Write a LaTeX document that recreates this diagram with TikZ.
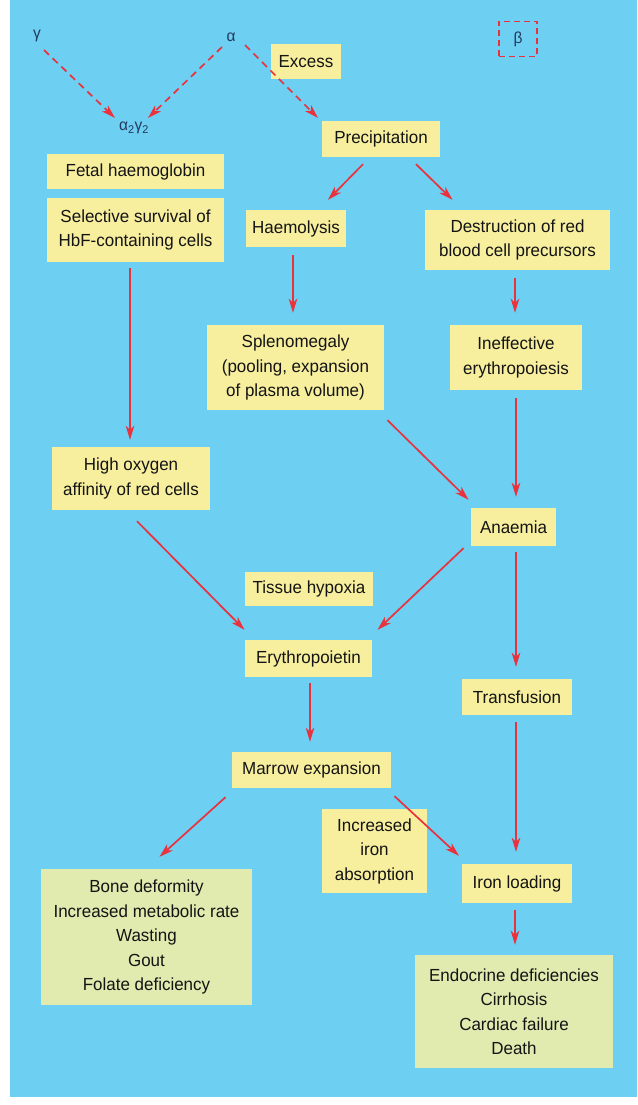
\documentclass[tikz,border=0pt]{standalone}
\usepackage{fontspec}
\setmainfont[FakeStretch=0.97]{Liberation Sans}
\usepackage{tikz}
\usetikzlibrary{arrows,arrows.meta,positioning,shapes}

\definecolor{skyblue}{HTML}{6DCFF2}
\definecolor{boxyellow}{HTML}{F7EF9E}
\definecolor{boxgreen}{HTML}{E1EAAF}
\definecolor{arrowred}{HTML}{E8333F}
\definecolor{greekblue}{HTML}{243A5E}

\tikzset{
  box/.style={fill=boxyellow,align=center,inner sep=0pt,text=black!92,
    font=\fontsize{17.5}{24.5}\selectfont},
  listbox/.style={box,fill=boxgreen},
  greek/.style={text=greekblue,font=\fontsize{16}{18}\selectfont},
  arr/.style={draw=arrowred,line width=1.7pt,-{Stealth[length=14pt,width=8.5pt,inset=4pt]}},
  dasharr/.style={arr,dash pattern=on 7pt off 5pt}
}

\begin{document}
\begin{tikzpicture}[x=1pt,y=-1pt]
\useasboundingbox (0,0) rectangle (637,1105);
\fill[skyblue] (10,0) rectangle (637,1097);

\node[greek] (gam) at (37,36) {γ};
\node[greek] (alp) at (231,37) {α};
\node[greek] (hbf) at (134,128) {α\textsubscript{2}γ\textsubscript{2}};
\node[greek,draw=arrowred,line width=1.5pt,dash pattern=on 6pt off 4pt,minimum width=38,minimum height=35] (bet) at (518,39) {β};

\node[box,minimum width=70,minimum height=35] (exc) at (306,62) {Excess};
\node[box,minimum width=118,minimum height=36] (prec) at (381,139) {Precipitation};
\node[box,minimum width=177,minimum height=35] (fetal) at (135.5,171.5) {Fetal haemoglobin};
\node[box,minimum width=177,minimum height=64] (surv) at (135.5,230) {Selective survival of\\HbF-containing cells};
\node[box,minimum width=100,minimum height=37] (haem) at (296,228.5) {Haemolysis};
\node[box,minimum width=185,minimum height=60] (destr) at (517.5,240) {Destruction of red\\blood cell precursors};
\node[box,minimum width=177,minimum height=85] (splen) at (295.5,367.5) {Splenomegaly\\(pooling, expansion\\of plasma volume)};
\node[box,minimum width=132,minimum height=65] (ineff) at (516,357.5) {Ineffective\\erythropoiesis};
\node[box,minimum width=158,minimum height=63] (oxy) at (131,478.5) {High oxygen\\affinity of red cells};
\node[box,minimum width=85,minimum height=38] (anae) at (513.5,527) {Anaemia};
\node[box,minimum width=128,minimum height=34] (hypox) at (309,589) {Tissue hypoxia};
\node[box,minimum width=127,minimum height=37] (epo) at (308.5,658.5) {Erythropoietin};
\node[box,minimum width=110,minimum height=36] (transf) at (517,697) {Transfusion};
\node[box,minimum width=159,minimum height=36] (marrow) at (311.5,770) {Marrow expansion};
\node[box,minimum width=105,minimum height=84] (absorb) at (374.5,851) {Increased\\iron\\absorption};
\node[box,minimum width=110,minimum height=39] (iron) at (517,883.5) {Iron loading};
\node[listbox,minimum width=211,minimum height=136] (bone) at (146.5,937) {Bone deformity\\Increased metabolic rate\\Wasting\\Gout\\Folate deficiency};
\node[listbox,minimum width=198,minimum height=113] (endo) at (514,1011.5) {Endocrine deficiencies\\Cirrhosis\\Cardiac failure\\Death};

% globin chains
\draw[dasharr] ([shift={(7,14)}]gam.center) -- ([shift={(-19,-10)}]hbf.center);
\draw[dasharr] ([shift={(-9,10)}]alp.center) -- ([shift={(14,-10)}]hbf.center);
\draw[dasharr] ([shift={(14,8)}]alp.center) -- ([shift={(-63,-21)}]prec.center);

% alpha excess
\draw[arr] ([shift={(-18,7)}]prec.south) -- ([shift={(32,-10)}]haem.north);
\draw[arr] ([shift={(35,7)}]prec.south) -- ([shift={(-65,-10)}]destr.north);
\draw[arr] ([shift={(-3,8)}]haem.south) -- ([shift={(-2.5,-12)}]splen.north);
\draw[arr] ([shift={(-2.5,8)}]destr.south) -- ([shift={(-1,-12)}]ineff.north);
\draw[arr] ([shift={(-5.5,6)}]surv.south) -- ([shift={(-1,-7)}]oxy.north);
\draw[arr] ([shift={(92,10)}]splen.south) -- ([shift={(-45,-8)}]anae.north);
\draw[arr] ([shift={(0,8)}]ineff.south) -- ([shift={(2.5,-11)}]anae.north);

% anaemia and its effects
\draw[arr] ([shift={(6,11)}]oxy.south) -- ([shift={(-64,-10)}]epo.north);
\draw[arr] ([shift={(-50,2)}]anae.south) -- ([shift={(69,-10)}]epo.north);
\draw[arr] ([shift={(2.5,6)}]anae.south) -- ([shift={(-1,-12)}]transf.north);
\draw[arr] ([shift={(1.5,6)}]epo.south) -- ([shift={(-1.5,-10)}]marrow.north);
\draw[arr] ([shift={(-1,7)}]transf.south) -- ([shift={(-1,-12)}]iron.north);
\draw[arr] ([shift={(-86,9)}]marrow.south) -- ([shift={(13,-12)}]bone.north);
\draw[arr] ([shift={(83,8)}]marrow.south) -- ([shift={(-58,-8)}]iron.north);
\draw[arr] ([shift={(-2,7)}]iron.south) -- ([shift={(1,-10)}]endo.north);
\end{tikzpicture}
\end{document}
